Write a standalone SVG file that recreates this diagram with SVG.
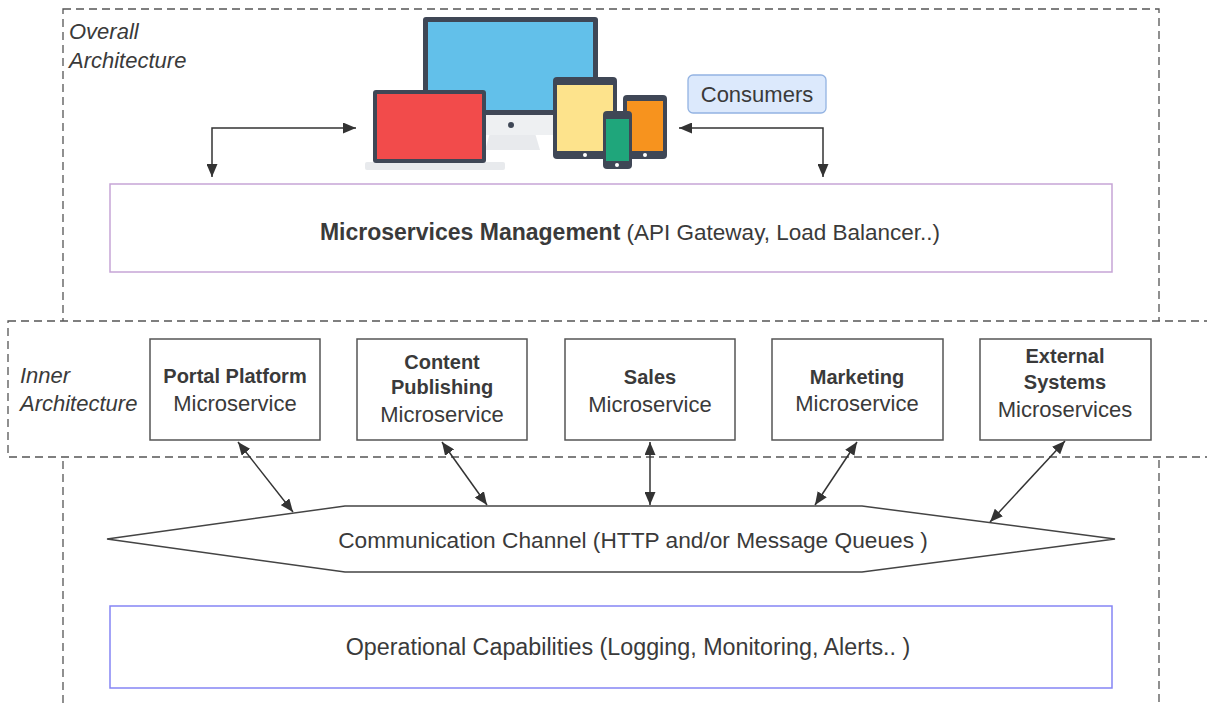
<svg xmlns="http://www.w3.org/2000/svg" width="1207" height="703" viewBox="0 0 1207 703">
  <defs>
    <marker id="arrow" viewBox="0 0 13 11" refX="13" refY="5.5" markerWidth="13" markerHeight="11" markerUnits="userSpaceOnUse" orient="auto-start-reverse">
      <path d="M0,0 L13,5.5 L0,11 z" fill="#333"/>
    </marker>
    <style>
      text { font-family: "Liberation Sans", Arial, sans-serif; fill: #3a3a3a; }
      .frame { fill: none; stroke: #555; stroke-width: 1.3; stroke-dasharray: 8 5; }
      .inner { fill: #fff; stroke: #555; stroke-width: 1.3; stroke-dasharray: 8 5; }
      .label { font-size: 22px; font-style: italic; }
      .svc { fill: #fff; stroke: #555; stroke-width: 1.5; }
      .b { font-size: 20px; font-weight: bold; }
      .r { font-size: 22px; }
      .wide { font-size: 22.7px; }
      .link { fill: none; stroke: #333; stroke-width: 1.5; marker-start: url(#arrow); marker-end: url(#arrow); }
      .dev { fill: #3f4756; }
    </style>
  </defs>

  <rect width="1207" height="703" fill="#fff"/>

  <!-- outer boundary -->
  <g id="overall-architecture">
    <rect class="frame" x="63" y="9" width="1096" height="720"/>
    <text class="label" x="69" y="39">Overall</text>
    <text class="label" x="69" y="68">Architecture</text>
  </g>

  <!-- consumer devices -->
  <g id="consumers">
    <!-- monitor -->
    <path d="M490,133 L535,133 L540,150 L485,150 z" fill="#e8eaed"/>
    <rect x="423" y="112" width="175" height="23" rx="2" fill="#eef0f2"/>
    <circle cx="511" cy="125" r="3" fill="#3f4756"/>
    <rect class="dev" x="423" y="17" width="175" height="98" rx="3"/>
    <rect x="428" y="22" width="165" height="88" fill="#62c0ea"/>
    <!-- laptop -->
    <rect x="365" y="162" width="140" height="8" rx="2" fill="#e8eaed"/>
    <rect class="dev" x="373" y="90" width="113" height="73" rx="3"/>
    <rect x="377" y="94" width="105" height="65" fill="#f24b4b"/>
    <!-- tablet -->
    <rect class="dev" x="553" y="77" width="64" height="82" rx="4"/>
    <rect x="557" y="85" width="56" height="66" fill="#fde38c"/>
    <circle cx="585" cy="155" r="2" fill="#fff"/>
    <!-- small tablet -->
    <rect class="dev" x="623" y="95" width="44" height="64" rx="4"/>
    <rect x="627" y="101" width="36" height="50" fill="#f7931e"/>
    <circle cx="645" cy="155" r="2" fill="#fff"/>
    <!-- phone -->
    <rect class="dev" x="603" y="111" width="29" height="58" rx="4"/>
    <rect x="606" y="119" width="23" height="42" fill="#1fa67b"/>
    <circle cx="617" cy="165" r="2" fill="#fff"/>
    <!-- tag -->
    <rect x="688" y="75" width="138" height="38" rx="5" fill="#dce9fc" stroke="#93b3e2" stroke-width="1.3"/>
    <text class="r" x="757" y="102" text-anchor="middle">Consumers</text>
  </g>

  <g id="management">
    <rect x="110" y="184" width="1002" height="88" fill="#fff" stroke="#c6a5d6" stroke-width="1.5"/>
    <text x="630" y="240" text-anchor="middle"><tspan font-weight="bold" font-size="23">Microservices Management</tspan><tspan font-size="22.5"> (API Gateway, Load Balancer..)</tspan></text>
  </g>

  <!-- inner boundary -->
  <g id="inner-architecture">
    <rect class="inner" x="8" y="321" width="1230" height="136"/>
    <text class="label" x="20" y="383">Inner</text>
    <text class="label" x="20" y="411">Architecture</text>
  </g>

  <g id="portal-platform">
    <rect class="svc" x="150" y="339" width="170" height="101"/>
    <text class="b" x="235" y="383" text-anchor="middle">Portal Platform</text>
    <text class="r" x="235" y="411" text-anchor="middle">Microservice</text>
  </g>
  <g id="content-publishing">
    <rect class="svc" x="357" y="339" width="170" height="101"/>
    <text class="b" x="442" y="369" text-anchor="middle">Content</text>
    <text class="b" x="442" y="394" text-anchor="middle">Publishing</text>
    <text class="r" x="442" y="422" text-anchor="middle">Microservice</text>
  </g>
  <g id="sales">
    <rect class="svc" x="565" y="339" width="170" height="101"/>
    <text class="b" x="650" y="384" text-anchor="middle">Sales</text>
    <text class="r" x="650" y="412" text-anchor="middle">Microservice</text>
  </g>
  <g id="marketing">
    <rect class="svc" x="772" y="339" width="171" height="101"/>
    <text class="b" x="857" y="384" text-anchor="middle">Marketing</text>
    <text class="r" x="857" y="411" text-anchor="middle">Microservice</text>
  </g>
  <g id="external-systems">
    <rect class="svc" x="980" y="339" width="171" height="101"/>
    <text class="b" x="1065" y="363" text-anchor="middle">External</text>
    <text class="b" x="1065" y="389" text-anchor="middle">Systems</text>
    <text class="r" x="1065" y="417" text-anchor="middle">Microservices</text>
  </g>

  <g id="communication-channel">
    <polygon points="107,539 345,506 862,506 1115,539 862,572 345,572" fill="#fff" stroke="#444" stroke-width="1.5"/>
    <text class="wide" x="633" y="548" text-anchor="middle">Communication Channel (HTTP and/or Message Queues )</text>
  </g>

  <g id="operational-capabilities">
    <rect x="110" y="606" width="1002" height="82" fill="#fff" stroke="#8585f5" stroke-width="1.5"/>
    <text x="628" y="655" text-anchor="middle" font-size="23.3">Operational Capabilities (Logging, Monitoring, Alerts.. )</text>
  </g>

  <!-- connectors -->
  <g id="connectors">
    <polyline class="link" points="212,177 212,128 356,128"/>
    <polyline class="link" points="679,128 823,128 823,177"/>
    <line class="link" x1="238" y1="442" x2="293" y2="512"/>
    <line class="link" x1="442" y1="442" x2="487" y2="505"/>
    <line class="link" x1="650" y1="442" x2="650" y2="505"/>
    <line class="link" x1="857" y1="442" x2="815" y2="505"/>
    <line class="link" x1="1065" y1="441" x2="990" y2="522"/>
  </g>
</svg>
